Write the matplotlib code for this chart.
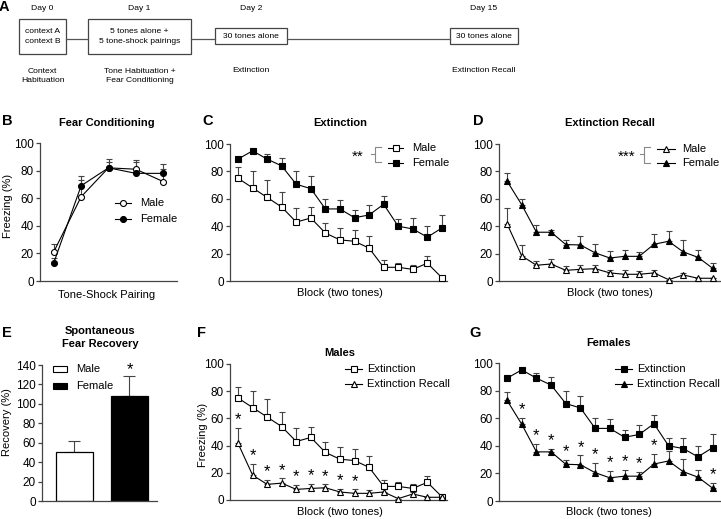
import numpy as np
import matplotlib
matplotlib.use('Agg')
import matplotlib.pyplot as plt
from matplotlib.patches import Rectangle

plt.rcParams['font.family'] = ['Liberation Sans', 'DejaVu Sans']
plt.rcParams['font.size'] = 8

# ---- data ----
blocks = np.arange(1, 16)
pairings = np.arange(1, 6)

# B: fear conditioning
cond_male = [21, 61, 82, 81, 72]
cond_male_err = [6, 12, 6.5, 7, 9]
cond_female = [13, 69, 82, 78, 78]
cond_female_err = [4, 7, 4.5, 8.5, 7]

# C: extinction (day 2)
ext_male = [75, 68, 61, 54, 43, 46, 35, 30, 29, 24, 10, 10, 8.5, 13, 2.4]
ext_male_err = [8, 12, 13, 11, 10, 8, 7.6, 9, 8.5, 8.6, 5, 3.2, 3.4, 5, 0]
ext_female = [89, 95, 89, 84, 70.6, 67.4, 52.6, 52.6, 46.2, 48.2, 56, 40, 38, 32, 38.7]
ext_female_err = [0, 0, 3.9, 5.8, 9.4, 9, 7.4, 6.8, 5.6, 7, 6.3, 5.4, 7.7, 8, 9.7]

# D: extinction recall (day 15)
rec_male = [41.7, 18.3, 11.5, 12.4, 7.8, 8.5, 9, 5.9, 4.9, 4.9, 5.9, 1, 4.4, 2, 2]
rec_male_err = [11.5, 8, 3.1, 3.5, 3.2, 3.2, 2.5, 2.4, 2.9, 2.7, 2.4, 0, 1.7, 0, 0]
rec_female = [72.9, 55.6, 35.6, 35.6, 26.6, 26.3, 20.5, 16.8, 18, 18, 26.8, 29, 21.2, 17.3, 9.3]
rec_female_err = [6.1, 4.4, 5.6, 1.9, 3.4, 6.7, 6.8, 4.9, 4.7, 3.2, 7.2, 7.3, 9, 5.3, 3.6]

# E: spontaneous recovery
sexes = ['Male', 'Female']
recovery = [50, 108]
recovery_err = [11.7, 20.3]

# blocks with significant ext vs recall difference
sig_males = [1, 2, 3, 4, 5, 6, 7, 8, 9]
sig_females = [2, 3, 4, 5, 6, 7, 8, 9, 10, 11, 15]

W, H = 721, 519
fig = plt.figure(figsize=(W / 100, H / 100), dpi=100)

EC = '#444444'  # axis / errorbar grey
STAR = 12


def axes_px(box):
    l, t, r, b = box
    return fig.add_axes([l / W, 1 - b / H, (r - l) / W, (b - t) / H])


def frac(box, x, y):
    l, t, r, b = box
    return (x - l) / (r - l), (b - y) / (b - t)


def style(ax, ymax, step):
    for s in ['top', 'right']:
        ax.spines[s].set_visible(False)
    for s in ['left', 'bottom']:
        ax.spines[s].set_color(EC)
        ax.spines[s].set_linewidth(0.9)
    ax.set_ylim(0, ymax)
    ax.set_yticks(np.arange(0, ymax + 1, step))
    ax.tick_params(axis='y', length=3, width=0.9, color=EC, labelsize=8.5, pad=1.5)
    ax.tick_params(axis='x', length=0, labelbottom=False)
    ax.patch.set_visible(False)


def series(ax, x, y, err, marker, filled, ms=4.3):
    ax.errorbar(x, y, yerr=[np.zeros(len(err)), err], fmt='none', ecolor=EC,
                elinewidth=0.8, capsize=2.2, capthick=0.8, zorder=1, clip_on=False)
    ax.plot(x, y, color='black', lw=0.8, marker=marker, ms=ms, mew=0.8,
            mec='black', mfc='black' if filled else 'white', zorder=3, clip_on=False)


def labels(ax, box, title, tpos, xlabel=None, xpos=None, ylabel=None, ypos=None):
    tx, ty = frac(box, *tpos)
    ax.set_title(title, fontsize=8, fontweight='bold', x=tx, y=ty, pad=0, va='center')
    if xlabel:
        ax.set_xlabel(xlabel, fontsize=8)
        ax.xaxis.set_label_coords(*frac(box, *xpos))
        ax.xaxis.label.set_va('center')
    if ylabel:
        ax.set_ylabel(ylabel, fontsize=8)
        ax.yaxis.set_label_coords(*frac(box, *ypos))
        ax.yaxis.label.set_va('center')


# overlay in pixel coordinates for panel A, letters and keys
ov = fig.add_axes([0, 0, 1, 1], zorder=10)
ov.set_xlim(0, W)
ov.set_ylim(H, 0)
ov.axis('off')


def key(x0, x1, xt, y, text, marker, filled):
    ov.plot([x0, x1], [y, y], color='black', lw=0.8)
    ov.plot([(x0 + x1) / 2], [y], marker=marker, ms=4.3, mew=0.8, mec='black',
            mfc='black' if filled else 'white', ls='none')
    ov.text(xt, y, text, fontsize=8, va='center', ha='left')


def bracket(xs, ys, xv, ytop, ybot, stars):
    c = '#888888'
    ov.plot([xv - 4, xv], [ys, ys], color=c, lw=0.8)
    ov.plot([xv + 6, xv, xv, xv + 6], [ytop, ytop, ybot, ybot], color=c, lw=0.8)
    ov.text(xs, ys + 3, stars, fontsize=STAR - 1, ha='center', va='center')


# ---- panel A: timeline ----
fa = dict(fontsize=6.1, ha='center', va='center')
ov.plot([66, 88], [39, 39], color='#555555', lw=0.9)
ov.plot([191, 215], [39, 39], color='#555555', lw=0.9)
ov.plot([287, 450], [39, 39], color='#555555', lw=0.9)
for (l, t, r, b), day, inside, below, yb in [
        ((19, 19, 66, 54), 'Day 0', 'context A\ncontext B', 'Context\nHabituation', 76),
        ((88, 19, 191, 54), 'Day 1', '5 tones alone +\n5 tone-shock pairings',
         'Tone Habituation +\nFear Conditioning', 76),
        ((215, 28, 287, 44), 'Day 2', '30 tones alone', 'Extinction', 71),
        ((450, 28, 518, 44), 'Day 15', '30 tones alone', 'Extinction Recall', 71)]:
    ov.add_patch(Rectangle((l, t), r - l, b - t, fill=False, ec='#444444', lw=0.9))
    cx = (l + r) / 2
    ov.text(cx, 8, day, **fa)
    ov.text(cx, (t + b) / 2, inside, linespacing=1.5, **fa)
    ov.text(cx, yb, below, linespacing=1.55, **fa)

# panel letters
for letter, x, y in [('A', 4, 7), ('B', 7, 121), ('C', 208, 121), ('D', 478, 121),
                     ('E', 7, 333), ('F', 201, 333), ('G', 475, 333)]:
    ov.text(x, y, letter, fontsize=10.5, fontweight='bold', ha='center', va='center')

# ---- panel B ----
boxB = (40, 143, 177, 281)
axB = axes_px(boxB)
style(axB, 100, 20)
axB.set_xlim(0.5, 5.5)
series(axB, pairings, cond_male, cond_male_err, 'o', False)
series(axB, pairings, cond_female, cond_female_err, 'o', True)
labels(axB, boxB, 'Fear Conditioning', (107, 123), 'Tone-Shock Pairing', (107, 295),
       'Freezing (%)', (8, 206))
key(115, 131, 140, 203, 'Male', 'o', False)
key(115, 131, 140, 219, 'Female', 'o', True)

# ---- panel C ----
boxC = (230, 144, 447, 281)
axC = axes_px(boxC)
style(axC, 100, 20)
axC.set_xlim(0.45, 15.35)
series(axC, blocks, ext_male, ext_male_err, 's', False)
series(axC, blocks, ext_female, ext_female_err, 's', True)
labels(axC, boxC, 'Extinction', (340, 123), 'Block (two tones)', (340, 293))
key(388, 403, 412, 148, 'Male', 's', False)
key(388, 403, 412, 163, 'Female', 's', True)
bracket(358, 154, 375, 147, 162, '**')

# ---- panel D ----
boxD = (499, 144, 720, 281)
axD = axes_px(boxD)
style(axD, 100, 20)
axD.set_xlim(0.45, 15.5)
series(axD, blocks, rec_male, rec_male_err, '^', False)
series(axD, blocks, rec_female, rec_female_err, '^', True)
labels(axD, boxD, 'Extinction Recall', (610, 123), 'Block (two tones)', (610, 293))
key(657, 675, 682, 149, 'Male', '^', False)
key(657, 675, 682, 163, 'Female', '^', True)
bracket(627, 154, 644, 147, 163, '***')

# ---- panel E ----
boxE = (42, 365, 157, 501)
axE = axes_px(boxE)
style(axE, 140, 20)
axE.set_xlim(-0.59, 1.5)
xE = np.arange(len(sexes))
axE.bar(xE, recovery, width=0.67, color=['white', 'black'], edgecolor='black', lw=0.9, zorder=2)
axE.errorbar(xE, recovery, yerr=[[0, 0], recovery_err], fmt='none', ecolor=EC,
             elinewidth=0.8, capsize=4, capthick=0.8, zorder=1)
axE.text(1, recovery[1] + recovery_err[1] + 7, '*', fontsize=STAR, ha='center', va='center')
labels(axE, boxE, 'Spontaneous\nFear Recovery', (100, 337.5), ylabel='Recovery (%)',
       ypos=(7, 422))
axE.title.set_linespacing(1.3)
for y, lab, c in [(369, 'Male', 'white'), (386, 'Female', 'black')]:
    ov.add_patch(Rectangle((53, y - 2.7), 14, 5.4, fc=c, ec='black', lw=0.8))
    ov.text(76, y, lab, fontsize=8, va='center')

# ---- panel F ----
boxF = (230, 364, 447, 500)
axF = axes_px(boxF)
style(axF, 100, 20)
axF.set_xlim(0.45, 15.35)
series(axF, blocks, ext_male, ext_male_err, 's', False)
series(axF, blocks, rec_male, rec_male_err, '^', False)
for i in sig_males:
    axF.text(i, rec_male[i - 1] + rec_male_err[i - 1] + 6, '*', fontsize=STAR,
             ha='center', va='center')
labels(axF, boxF, 'Males', (340, 353), 'Block (two tones)', (340, 512),
       'Freezing (%)', (203, 435))
key(345, 362, 367, 369, 'Extinction', 's', False)
key(345, 362, 367, 384, 'Extinction Recall', '^', False)

# ---- panel G ----
boxG = (499, 363, 720, 501)
axG = axes_px(boxG)
style(axG, 100, 20)
axG.set_xlim(0.45, 15.5)
series(axG, blocks, ext_female, ext_female_err, 's', True)
series(axG, blocks, rec_female, rec_female_err, '^', True)
for i in sig_females:
    axG.text(i, rec_female[i - 1] + rec_female_err[i - 1] + 6, '*', fontsize=STAR,
             ha='center', va='center')
labels(axG, boxG, 'Females', (609, 343), 'Block (two tones)', (609, 512))
key(615, 632, 637, 369, 'Extinction', 's', True)
key(615, 632, 637, 384, 'Extinction Recall', '^', True)

fig.savefig('out.png', dpi=100)
